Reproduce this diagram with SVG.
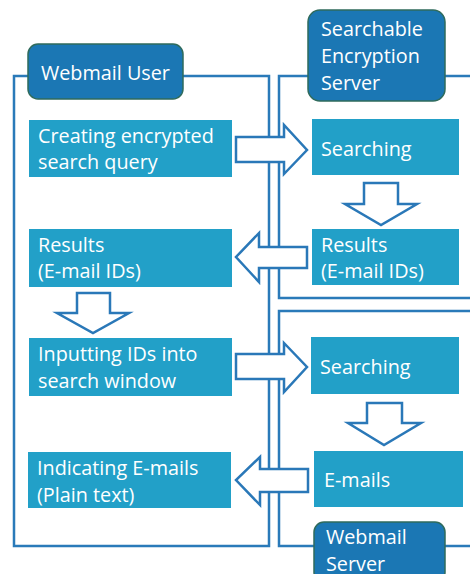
<svg xmlns="http://www.w3.org/2000/svg" width="470" height="574" viewBox="0 0 470 574">
<style>
.frame{fill:none;stroke:#2a7ab9;stroke-width:2.5}
.box{fill:#22a0c8}
.lbl{fill:#1b77b4;stroke:#2f6b5c;stroke-width:1.5}
.arr{fill:#fff;stroke:#2a78b8;stroke-width:2.5;stroke-linejoin:miter}
text{font-family:"Open Sans","Liberation Sans",sans-serif;font-size:19.8px;fill:#fff}
</style>
<rect width="470" height="574" fill="#fff"/>
<g id="frames">
<polyline class="frame" points="28,76 14,76 14,546 269,546 269,76 183,76"/>
<polyline class="frame" points="308,76 279,76 279,298 472,298"/>
<polyline class="frame" points="445,76 472,76"/>
<polyline class="frame" points="472,311 279,311 279,546 314,546"/>
<polyline class="frame" points="445,546 472,546"/>
</g>
<g id="webmail-user">
<rect class="lbl" x="28" y="44" width="155" height="55" rx="10"/>
<text x="41" y="80">Webmail User</text>
</g>
<g id="se-server">
<rect class="lbl" x="308" y="10" width="137" height="91" rx="12"/>
<text x="321" y="36">Searchable</text>
<text x="321" y="63">Encryption</text>
<text x="321" y="90">Server</text>
</g>
<g id="webmail-server">
<rect class="lbl" x="314" y="522" width="131" height="60" rx="10"/>
<text x="326" y="544">Webmail</text>
<text x="326" y="571">Server</text>
</g>
<g id="creating">
<rect class="box" x="29" y="120" width="203" height="57"/>
<text x="38" y="143">Creating encrypted</text>
<text x="38" y="169">search query</text>
</g>
<g id="searching1">
<rect class="box" x="312" y="119" width="147" height="56"/>
<text x="321" y="156">Searching</text>
</g>
<g id="results-left">
<rect class="box" x="29" y="229" width="203" height="58"/>
<text x="38" y="252">Results</text>
<text x="38" y="278">(E-mail IDs)</text>
</g>
<g id="results-right">
<rect class="box" x="312" y="229" width="147" height="56"/>
<text x="321" y="252">Results</text>
<text x="321" y="278">(E-mail IDs)</text>
</g>
<g id="inputting">
<rect class="box" x="29" y="338" width="203" height="58"/>
<text x="38" y="361">Inputting IDs into</text>
<text x="38" y="388">search window</text>
</g>
<g id="searching2">
<rect class="box" x="311" y="337" width="148" height="57"/>
<text x="320" y="374">Searching</text>
</g>
<g id="indicating">
<rect class="box" x="28" y="452" width="203" height="56"/>
<text x="37" y="475">Indicating E-mails</text>
<text x="37" y="502">(Plain text)</text>
</g>
<g id="emails">
<rect class="box" x="314" y="451" width="149" height="56"/>
<text x="324" y="487">E-mails</text>
</g>
<g id="connectors">
<polygon class="arr" points="236,137 284,137 284,125 307,150 284,174 284,162 236,162"/>
<polygon class="arr" points="364,183 398,183 398,204 417,204 381,225 345,204 364,204"/>
<polygon class="arr" points="307,247 259,247 259,233 236,257 259,282 259,268 307,268"/>
<polygon class="arr" points="77,293 110,293 110,313 129,313 93,333 57,313 77,313"/>
<polygon class="arr" points="236,354 284,354 284,343 307,367 284,392 284,379 236,379"/>
<polygon class="arr" points="367,403 402,403 402,423 421,423 384,445 348,423 367,423"/>
<polygon class="arr" points="308,469 260,469 260,457 236,480 260,505 260,492 308,492"/>
</g>
</svg>
